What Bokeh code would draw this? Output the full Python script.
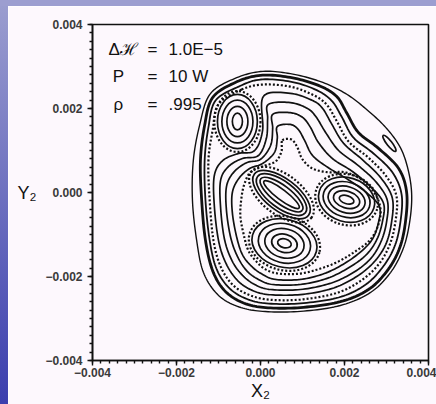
import numpy as np
from bokeh.plotting import figure
from bokeh.layouts import column, row
from bokeh.models import Range1d, FixedTicker, Label, CustomJSTickFormatter, Div
from bokeh.embed import file_html
from bokeh.resources import INLINE

UNIT = 1e-3  # all curve / island values below are in units of 1e-3

# ---- outer invariant curves (closed, clockwise) ----
C0_X = [-0.67, 0.00, 0.71, 1.43, 2.02, 2.50, 2.98, 3.33, 3.52, 3.60, 3.55, 3.40, 3.10, 2.62, 1.90, 0.95, 0.05, -0.55, -1.02, -1.36, -1.52, -1.62, -1.60, -1.45, -1.21]
C0_Y = [2.69, 2.88, 2.83, 2.64, 2.36, 2.00, 1.55, 1.07, 0.52, -0.07, -0.71, -1.33, -1.90, -2.38, -2.69, -2.83, -2.83, -2.71, -2.43, -1.90, -1.14, -0.19, 0.76, 1.60, 2.33]

B1_X = [-0.60, 0.00, 0.71, 1.38, 1.81, 2.05, 2.33, 2.81, 3.29, 3.48, 3.45, 3.31, 3.02, 2.57, 1.90, 0.95, 0.12, -0.43, -0.86, -1.14, -1.31, -1.40, -1.43, -1.33, -1.14]
B1_Y = [2.62, 2.79, 2.74, 2.55, 2.29, 1.90, 1.43, 1.05, 0.57, 0.00, -0.71, -1.33, -1.86, -2.31, -2.60, -2.74, -2.74, -2.62, -2.33, -1.86, -1.14, -0.19, 0.76, 1.60, 2.26]

B2_X = [-0.52, 0.00, 0.71, 1.31, 1.69, 1.93, 2.21, 2.69, 3.14, 3.36, 3.33, 3.19, 2.90, 2.48, 1.86, 0.95, 0.14, -0.36, -0.76, -1.05, -1.21, -1.31, -1.33, -1.24, -1.07]
B2_Y = [2.52, 2.69, 2.64, 2.45, 2.19, 1.81, 1.31, 0.93, 0.48, -0.05, -0.71, -1.29, -1.79, -2.21, -2.50, -2.64, -2.64, -2.52, -2.26, -1.81, -1.14, -0.19, 0.76, 1.55, 2.19]

D1_X = [-0.45, 0.05, 0.71, 1.24, 1.57, 1.81, 2.10, 2.57, 3.00, 3.24, 3.21, 3.07, 2.79, 2.36, 1.79, 0.95, 0.19, -0.29, -0.67, -0.95, -1.12, -1.21, -1.24, -1.14, -1.00]
D1_Y = [2.45, 2.57, 2.52, 2.33, 2.10, 1.71, 1.21, 0.83, 0.38, -0.10, -0.71, -1.26, -1.74, -2.12, -2.40, -2.55, -2.55, -2.43, -2.19, -1.76, -1.14, -0.19, 0.76, 1.48, 2.10]

# ---- curves wrapping the three inner islands ----
T1_X = [0.07, 0.71, 1.24, 1.48, 1.69, 1.98, 2.45, 2.88, 3.14, 3.12, 2.98, 2.69, 2.26, 1.69, 0.95, 0.19, -0.24, -0.57, -0.83, -1.00, -1.10, -1.10, -0.90, -0.52, -0.14, 0.05]
T1_Y = [2.29, 2.36, 2.19, 2.00, 1.64, 1.17, 0.76, 0.33, -0.14, -0.71, -1.24, -1.67, -2.02, -2.29, -2.43, -2.43, -2.31, -2.07, -1.67, -1.14, -0.31, 0.40, 0.76, 0.93, 1.00, 1.48]

T2_X = [0.19, 0.71, 1.12, 1.33, 1.55, 1.86, 2.33, 2.76, 3.02, 3.00, 2.86, 2.60, 2.17, 1.64, 0.95, 0.24, -0.14, -0.45, -0.69, -0.86, -0.95, -0.95, -0.76, -0.43, -0.05, 0.14, 0.17]
T2_Y = [2.10, 2.14, 2.00, 1.79, 1.43, 1.00, 0.64, 0.24, -0.19, -0.71, -1.19, -1.60, -1.93, -2.17, -2.31, -2.31, -2.19, -1.95, -1.60, -1.10, -0.36, 0.29, 0.62, 0.81, 0.88, 1.29, 1.76]

T3_X = [0.29, 0.71, 1.00, 1.19, 1.38, 1.71, 2.19, 2.64, 2.93, 2.90, 2.76, 2.50, 2.07, 1.57, 0.95, 0.29, -0.05, -0.33, -0.55, -0.71, -0.81, -0.81, -0.64, -0.33, 0.00, 0.24, 0.29]
T3_Y = [1.86, 1.90, 1.79, 1.55, 1.19, 0.81, 0.50, 0.12, -0.26, -0.71, -1.14, -1.50, -1.81, -2.05, -2.19, -2.19, -2.07, -1.86, -1.52, -1.07, -0.43, 0.14, 0.48, 0.71, 0.79, 1.12, 1.52]

T4_X = [0.40, 0.71, 0.90, 1.05, 1.24, 1.60, 2.05, 2.52, 2.83, 2.81, 2.67, 2.40, 2.00, 1.52, 0.95, 0.36, 0.05, -0.21, -0.43, -0.57, -0.67, -0.67, -0.52, -0.26, 0.05, 0.33, 0.40]
T4_Y = [1.57, 1.62, 1.50, 1.24, 0.88, 0.60, 0.33, 0.00, -0.33, -0.71, -1.10, -1.40, -1.69, -1.93, -2.07, -2.07, -1.95, -1.76, -1.48, -1.05, -0.48, 0.00, 0.33, 0.57, 0.69, 0.95, 1.29]

T5_X = [0.52, 0.74, 0.88, 1.00, 1.24, 1.62, 2.02, 2.43, 2.74, 2.86, 2.79, 2.60, 2.26, 1.86, 1.43, 0.95, 0.43, 0.12, -0.10, -0.29, -0.40, -0.48, -0.45, -0.38, -0.24, 0.05, 0.36, 0.50]
T5_Y = [1.24, 1.26, 1.07, 0.79, 0.57, 0.48, 0.48, 0.29, -0.05, -0.43, -0.81, -1.14, -1.40, -1.64, -1.81, -1.93, -1.93, -1.83, -1.64, -1.38, -1.00, -0.55, -0.10, 0.21, 0.48, 0.62, 0.74, 0.98]

# ---- islands: centre, tilt (rad) and nested ring sizes ----
ISLAND_CX = [-0.55, 0.50, 2.05, 0.57, 3.07]
ISLAND_CY = [1.69, -0.05, -0.17, -1.21, 1.17]
ISLAND_ANGLE = [0.0, -0.65, -0.30, -0.25, -0.90]
ISLAND_W = [[0.24, 0.50, 0.74, 0.95], [1.05, 1.24, 1.43, 1.62], [0.36, 0.64, 0.90, 1.14, 1.36], [0.33, 0.62, 0.95, 1.26, 1.57], [0.48]]
ISLAND_H = [[0.40, 0.72, 1.02, 1.29], [0.24, 0.43, 0.62, 0.76], [0.19, 0.40, 0.62, 0.83, 1.05], [0.21, 0.43, 0.69, 0.93, 1.14], [0.12]]
CHAOS_W = [1.10, 1.80, 1.52, 1.72]
CHAOS_H = [1.45, 0.95, 1.20, 1.28]

MAJOR_TICKS = [-0.004, -0.002, 0.0, 0.002, 0.004]

PARAM_NAMES = ["\u0394\u210b", "P", "\u03c1"]
PARAM_VALUES = ["1.0E\u22125", "10  W", ".995"]

PANEL = "#fdf8fd"
INK = "#111111"


def closed_curve(xs, ys, n=12):
    """Smooth closed Catmull-Rom path through the read control points."""
    P = np.column_stack([xs, ys]).astype(float)
    N = len(P)
    t = np.linspace(0, 1, n, endpoint=False)[:, None]
    segs = []
    for i in range(N):
        p0, p1, p2, p3 = P[(i - 1) % N], P[i], P[(i + 1) % N], P[(i + 2) % N]
        segs.append(0.5 * (2 * p1 + (-p0 + p2) * t + (2 * p0 - 5 * p1 + 4 * p2 - p3) * t ** 2
                           + (-p0 + 3 * p1 - 3 * p2 + p3) * t ** 3))
    segs.append(P[:1])
    out = np.vstack(segs) * UNIT
    return out[:, 0], out[:, 1]


p = figure(width=428, height=398,
           x_range=Range1d(-0.004, 0.004), y_range=Range1d(-0.004, 0.004),
           output_backend="svg", toolbar_location=None,
           min_border_left=84, min_border_right=8, min_border_top=18, min_border_bottom=44)
p.background_fill_color = PANEL
p.border_fill_color = PANEL
p.grid.visible = False
p.outline_line_color = INK
p.outline_line_width = 1.6

fmt = CustomJSTickFormatter(code="return (tick < -1e-9 ? '\\u2212' : '') + Math.abs(tick).toFixed(3);")
minor = [round(v, 6) for v in np.arange(-0.004, 0.00401, 0.0002)]
for ax in (p.xaxis[0], p.yaxis[0]):
    ax.ticker = FixedTicker(ticks=MAJOR_TICKS, minor_ticks=minor)
    ax.formatter = fmt
    ax.axis_line_color = INK
    ax.axis_line_width = 1.6
    ax.major_tick_in = 0
    ax.major_tick_out = 5
    ax.minor_tick_in = 0
    ax.minor_tick_out = 3
    ax.major_tick_line_color = INK
    ax.minor_tick_line_color = INK
    ax.major_tick_line_width = 1.4
    ax.minor_tick_line_width = 1.4
    ax.major_label_text_font = "Liberation Sans"
    ax.major_label_text_font_size = "12px"
    ax.major_label_text_font_style = "bold"
    ax.major_label_text_color = "#3a3a3a"
    ax.axis_label_text_font = "Liberation Sans"
    ax.axis_label_text_font_size = "18px"
    ax.axis_label_text_font_style = "normal"
    ax.axis_label_text_color = INK
p.yaxis[0].major_label_standoff = 5
p.xaxis[0].major_label_standoff = 2
p.yaxis[0].axis_label = "Y\u2082"
p.yaxis[0].axis_label_orientation = "horizontal"
p.yaxis[0].axis_label_standoff = 6
p.xaxis[0].axis_label = "X\u2082"
p.xaxis[0].axis_label_standoff = 1

# solid invariant curves
for xs, ys, lw in [(C0_X, C0_Y, 1.4), (B1_X, B1_Y, 2.8), (B2_X, B2_Y, 1.8),
                   (T1_X, T1_Y, 1.7), (T2_X, T2_Y, 1.7), (T3_X, T3_Y, 1.7), (T4_X, T4_Y, 1.7)]:
    sx, sy = closed_curve(xs, ys)
    p.line(sx, sy, line_color=INK, line_width=lw, line_join="round")

# dotted (chaotic) layers
for xs, ys in [(D1_X, D1_Y), (T5_X, T5_Y)]:
    sx, sy = closed_curve(xs, ys)
    p.line(sx, sy, line_color=INK, line_width=2.2, line_dash="2 2")

# islands
ex, ey, ew, eh, ea = [], [], [], [], []
for cx, cy, ang, ws, hs in zip(ISLAND_CX, ISLAND_CY, ISLAND_ANGLE, ISLAND_W, ISLAND_H):
    for w, h in zip(ws, hs):
        ex.append(cx * UNIT); ey.append(cy * UNIT)
        ew.append(w * UNIT); eh.append(h * UNIT); ea.append(ang)
p.ellipse(x=ex, y=ey, width=ew, height=eh, angle=ea,
          fill_color=None, line_color=INK, line_width=1.7)

cx4 = [v * UNIT for v in ISLAND_CX[:4]]
cy4 = [v * UNIT for v in ISLAND_CY[:4]]
p.ellipse(x=cx4, y=cy4, width=[w * UNIT for w in CHAOS_W], height=[h * UNIT for h in CHAOS_H],
          angle=ISLAND_ANGLE[:4], fill_color=None, line_color=INK, line_width=2.2, line_dash="2 2")

# parameter block
rows_y = [3.40e-3, 2.76e-3, 2.10e-3]
name_x = [-3.62e-3, -3.52e-3, -3.50e-3]
for nm, val, yy, xx in zip(PARAM_NAMES, PARAM_VALUES, rows_y, name_x):
    for txt, x0, align in [(nm, xx, "left"), ("=", -2.57e-3, "center"), (val, -2.19e-3, "left")]:
        p.add_layout(Label(x=x0, y=yy, text=txt, text_font="Liberation Sans", text_font_size="17px",
                           text_color=INK, text_align=align, text_baseline="middle"))

# slide background strips (top and left)
top_strip = Div(width=436, height=6, styles={"background": "#9c9ed0", "margin": "0"})
left_strip = Div(width=8, height=398,
                 styles={"background": "linear-gradient(#9a9dcf, #3b3fae)", "margin": "0"})
layout = column(top_strip, row(left_strip, p, spacing=0), spacing=0)

open("out.html", "w").write(file_html(layout, INLINE))
